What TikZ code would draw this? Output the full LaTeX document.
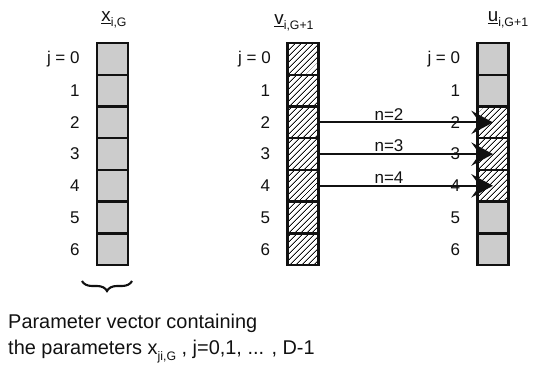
\documentclass[tikz,border=0pt]{standalone}
\usepackage{fontspec}
\setmainfont{Liberation Sans}
\usetikzlibrary{positioning,arrows.meta,calc,patterns.meta,decorations.pathreplacing}
\definecolor{ink}{HTML}{111111}
\definecolor{stipple}{HTML}{CCCCCC}

\tikzset{
  cell/.style={draw=ink, line width=2pt, minimum width=9.3mm, minimum height=9.5mm, inner sep=0pt},
  plain/.style={cell, fill=stipple},
  hatched/.style={cell, pattern={Lines[angle=45,distance=4pt,line width=0.9pt]}, pattern color=ink},
  idx/.style={inner sep=0pt, text=ink, font=\fontsize{14.5}{16}\selectfont},
  head/.style={inner sep=0pt, text=ink, font=\fontsize{16}{18}\selectfont},
  feed/.style={draw=ink, line width=1.8pt, -{Stealth[length=6.5mm,width=7mm,inset=2.5mm]}},
  caption/.style={anchor=base west, inner sep=0pt, text=ink, font=\fontsize{17}{20}\selectfont}
}
\newcommand{\subidx}[1]{\raisebox{-0.55ex}{\fontsize{10.5}{12}\selectfont #1}}

\begin{document}
\begin{tikzpicture}[x=0.3mm,y=0.3mm]
  \useasboundingbox (0,0) rectangle (540,365);

  % the three vectors
  \foreach \j in {0,...,6} {
    \node[plain] (x\j) at (112.5,{306-31.7*\j}) {};
    \node[hatched] (v\j) at (303,{306-31.7*\j}) {};
  }
  \foreach \j/\s in {0/plain,1/plain,2/hatched,3/hatched,4/hatched,5/plain,6/plain}
    \node[\s] (u\j) at (493,{306-31.7*\j}) {};

  % row numbers
  \foreach \c in {x,v,u} {
    \node[idx, anchor=east, left=4.8mm of \c0] (\c l0) {j = 0};
    \foreach \j in {1,...,6}
      \node[idx, anchor=east, left=4.8mm of \c\j] (\c l\j) {\j};
  }

  % headings
  \node[head] (hx) at (114,345) {\underline{x}\subidx{i,G}};
  \node[head] (hv) at (294,342) {\underline{v}\subidx{i,G+1}};
  \node[head] (hu) at (508,345) {\underline{u}\subidx{i,G+1}};

  % crossover arrows
  \foreach \j in {2,3,4}
    \draw[feed] (v\j.east) -- (u\j.center)
      node[pos=0.4, anchor=south, inner sep=0pt, yshift=0.3mm, idx] (n\j) {n=\j};

  % brace and caption
  \coordinate (bl) at (82,84);
  \coordinate (br) at (132,84);
  \draw[ink, line width=1.8pt, decorate, decoration={brace, mirror, amplitude=3mm}] (bl) -- (br);
  \node[caption] (c1) at (8,36) {Parameter vector containing};
  \node[caption] (c2) at (8,10) {the parameters x\subidx{ji,G} , j=0,1, ... , D-1};
\end{tikzpicture}
\end{document}
